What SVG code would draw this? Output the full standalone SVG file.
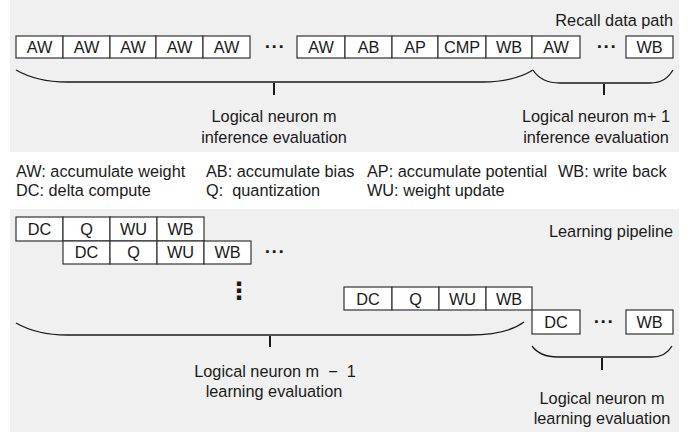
<svg xmlns="http://www.w3.org/2000/svg" width="694" height="434" viewBox="0 0 694 434">
<style>
  .panel { fill: #f0f0f0; stroke: none; }
  .box { fill: #ffffff; stroke: #333333; stroke-width: 1.2; }
  .t { font-family: "Liberation Sans", Arial, sans-serif; font-size: 16.3px; fill: #1a1a1a; }
  .c { text-anchor: middle; }
  .r { text-anchor: end; }
  .dots { font-family: "Liberation Sans", Arial, sans-serif; font-size: 19px; font-weight: bold; fill: #1a1a1a; text-anchor: middle; letter-spacing: 0.5px; }
  .brace { fill: none; stroke: #1a1a1a; stroke-width: 1.3; }
  .tick { fill: none; stroke: #1a1a1a; stroke-width: 2; }
</style>
<rect class="panel" x="10" y="0" width="669" height="152"/>
<rect class="panel" x="10" y="209" width="669" height="223"/>

<text class="t r" x="673" y="26">Recall data path</text>

<g id="recall-aw1"><rect class="box" x="16" y="36" width="47" height="22"/><text class="t c" x="39.5" y="53">AW</text></g>
<g id="recall-aw2"><rect class="box" x="63" y="36" width="47" height="22"/><text class="t c" x="86.5" y="53">AW</text></g>
<g id="recall-aw3"><rect class="box" x="110" y="36" width="46" height="22"/><text class="t c" x="133" y="53">AW</text></g>
<g id="recall-aw4"><rect class="box" x="156" y="36" width="47" height="22"/><text class="t c" x="179.5" y="53">AW</text></g>
<g id="recall-aw5"><rect class="box" x="203" y="36" width="47" height="22"/><text class="t c" x="226.5" y="53">AW</text></g>
<text class="dots" x="275" y="53">···</text>
<g id="recall-aw6"><rect class="box" x="297" y="36" width="48" height="22"/><text class="t c" x="321" y="53">AW</text></g>
<g id="recall-ab"><rect class="box" x="345" y="36" width="47" height="22"/><text class="t c" x="368.5" y="53">AB</text></g>
<g id="recall-ap"><rect class="box" x="392" y="36" width="46" height="22"/><text class="t c" x="415" y="53">AP</text></g>
<g id="recall-cmp"><rect class="box" x="438" y="36" width="48" height="22"/><text class="t c" x="462" y="53">CMP</text></g>
<g id="recall-wb"><rect class="box" x="486" y="36" width="46" height="22"/><text class="t c" x="509" y="53">WB</text></g>
<g id="recall-aw7"><rect class="box" x="532" y="36" width="48" height="22"/><text class="t c" x="556" y="53">AW</text></g>
<text class="dots" x="607" y="53">···</text>
<g id="recall-wb2"><rect class="box" x="626" y="36" width="47" height="22"/><text class="t c" x="649.5" y="53">WB</text></g>

<g id="connectors">
  <path class="brace" d="M16,70 C30,78 45,82 67,82 H483 C505,82 520,78 533,70"/>
  <path class="tick" d="M274,83 V95"/>
  <path class="brace" d="M533,70 C538,78 546,83 560,83 H650 C662,83 668,78 673,70"/>
  <path class="tick" d="M604,84 V95"/>
  <path class="brace" d="M16,323 C30,331 45,335 67,335 H470 C495,335 512,331 524,322"/>
  <path class="tick" d="M270,336 V347"/>
  <path class="brace" d="M532,346 C537,353 545,357 558,357 H652 C662,357 668,353 672,346"/>
  <path class="tick" d="M602,358 V370"/>
</g>

<g id="label-m-inference">
  <text class="t c" x="274" y="122">Logical neuron m</text>
  <text class="t c" x="274" y="143">inference evaluation</text>
</g>
<g id="label-m1-inference">
  <text class="t c" x="596" y="122">Logical neuron m+ 1</text>
  <text class="t c" x="596" y="143">inference evaluation</text>
</g>

<g id="legend">
  <text class="t" x="16" y="177">AW: accumulate weight</text>
  <text class="t" x="206" y="177">AB: accumulate bias</text>
  <text class="t" x="367" y="177">AP: accumulate potential</text>
  <text class="t" x="558" y="177">WB: write back</text>
  <text class="t" x="16" y="196">DC: delta compute</text>
  <text class="t" x="206" y="196" xml:space="preserve">Q:  quantization</text>
  <text class="t" x="367" y="196">WU: weight update</text>
</g>

<text class="t r" x="673" y="237">Learning pipeline</text>

<g id="learn-r1-dc"><rect class="box" x="16" y="217" width="47" height="24"/><text class="t c" x="39.5" y="235">DC</text></g>
<g id="learn-r1-q"><rect class="box" x="63" y="217" width="47" height="24"/><text class="t c" x="86.5" y="235">Q</text></g>
<g id="learn-r1-wu"><rect class="box" x="110" y="217" width="47" height="24"/><text class="t c" x="133.5" y="235">WU</text></g>
<g id="learn-r1-wb"><rect class="box" x="157" y="217" width="47" height="24"/><text class="t c" x="180.5" y="235">WB</text></g>

<g id="learn-r2-dc"><rect class="box" x="63" y="241" width="47" height="23"/><text class="t c" x="86.5" y="258">DC</text></g>
<g id="learn-r2-q"><rect class="box" x="110" y="241" width="47" height="23"/><text class="t c" x="133.5" y="258">Q</text></g>
<g id="learn-r2-wu"><rect class="box" x="157" y="241" width="47" height="23"/><text class="t c" x="180.5" y="258">WU</text></g>
<g id="learn-r2-wb"><rect class="box" x="204" y="241" width="47" height="23"/><text class="t c" x="227.5" y="258">WB</text></g>
<text class="dots" x="275" y="258">···</text>

<text x="239" y="299" style="font-family:'DejaVu Sans',sans-serif;font-size:24px;font-weight:bold;fill:#1a1a1a;text-anchor:middle">⋮</text>

<g id="learn-r3-dc"><rect class="box" x="344" y="287" width="48" height="23"/><text class="t c" x="368" y="305">DC</text></g>
<g id="learn-r3-q"><rect class="box" x="392" y="287" width="47" height="23"/><text class="t c" x="415.5" y="305">Q</text></g>
<g id="learn-r3-wu"><rect class="box" x="439" y="287" width="47" height="23"/><text class="t c" x="462.5" y="305">WU</text></g>
<g id="learn-r3-wb"><rect class="box" x="486" y="287" width="46" height="23"/><text class="t c" x="509" y="305">WB</text></g>

<g id="learn-r4-dc"><rect class="box" x="532" y="310" width="48" height="24"/><text class="t c" x="556" y="328">DC</text></g>
<text class="dots" x="604" y="328">···</text>
<g id="learn-r4-wb"><rect class="box" x="626" y="310" width="47" height="24"/><text class="t c" x="649.5" y="328">WB</text></g>

<g id="label-m-1-learning">
  <text class="t c" x="275" y="377" xml:space="preserve">Logical neuron m  −  1</text>
  <text class="t c" x="274" y="397">learning evaluation</text>
</g>
<g id="label-m-learning">
  <text class="t c" x="602" y="404">Logical neuron m</text>
  <text class="t c" x="602" y="424">learning evaluation</text>
</g>
</svg>
